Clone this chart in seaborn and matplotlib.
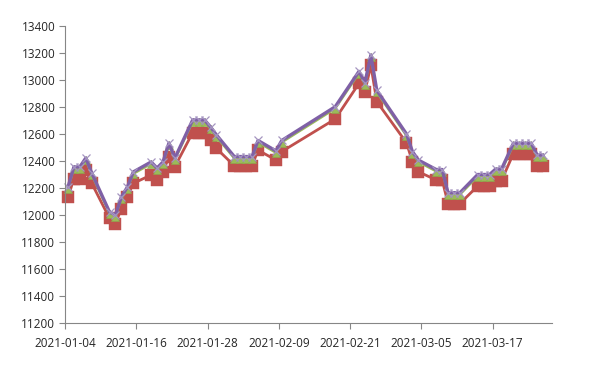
import matplotlib
matplotlib.use("Agg")
import matplotlib.pyplot as plt
import seaborn as sns
import pandas as pd

dates = [
    "2021-01-04", "2021-01-05", "2021-01-06", "2021-01-07", "2021-01-08",
    "2021-01-11", "2021-01-12", "2021-01-13", "2021-01-14", "2021-01-15",
    "2021-01-18", "2021-01-19", "2021-01-20", "2021-01-21", "2021-01-22",
    "2021-01-25", "2021-01-26", "2021-01-27", "2021-01-28", "2021-01-29",
    "2021-02-01", "2021-02-02", "2021-02-03", "2021-02-04", "2021-02-05",
    "2021-02-08", "2021-02-09",
    "2021-02-18",
    "2021-02-22", "2021-02-23", "2021-02-24", "2021-02-25",
    "2021-03-02", "2021-03-03", "2021-03-04",
    "2021-03-07", "2021-03-08",
    "2021-03-09", "2021-03-10", "2021-03-11",
    "2021-03-14", "2021-03-15", "2021-03-16",
    "2021-03-17", "2021-03-18",
    "2021-03-20", "2021-03-21", "2021-03-22", "2021-03-23",
    "2021-03-24", "2021-03-25",
]

series_red = [
    12130, 12270, 12270, 12330, 12235,
    11975, 11937, 12048, 12135, 12235,
    12296, 12259, 12320, 12430, 12358,
    12611, 12611, 12611, 12556, 12493,
    12365, 12365, 12365, 12365, 12481,
    12407, 12470,
    12711,
    12975, 12913, 13110, 12840,
    12535, 12395, 12320,
    12260, 12260,
    12085, 12085, 12085,
    12215, 12215, 12215,
    12255, 12255,
    12455, 12455, 12455, 12455,
    12360, 12360,
]

series_green = [
    12192, 12341, 12341, 12405, 12296,
    12008, 11985, 12120, 12192, 12304,
    12378, 12333, 12378, 12515, 12407,
    12688, 12688, 12688, 12637, 12578,
    12418, 12418, 12418, 12418, 12537,
    12460, 12537,
    12787,
    13048, 12965, 13168, 12908,
    12585, 12455, 12392,
    12322, 12322,
    12150, 12150, 12150,
    12285, 12285, 12285,
    12325, 12325,
    12516, 12516, 12516, 12516,
    12429, 12429,
]

series_purple = [
    12207, 12356, 12356, 12422, 12311,
    12022, 12000, 12135, 12207, 12319,
    12393, 12348, 12393, 12533, 12422,
    12704, 12704, 12704, 12652, 12593,
    12433, 12433, 12433, 12433, 12552,
    12475, 12552,
    12802,
    13064, 12980, 13185, 12923,
    12600, 12470, 12407,
    12337, 12337,
    12165, 12165, 12165,
    12300, 12300, 12300,
    12340, 12340,
    12531, 12531, 12531, 12531,
    12444, 12444,
]

tick_labels = ["2021-01-04", "2021-01-16", "2021-01-28", "2021-02-09",
               "2021-02-21", "2021-03-05", "2021-03-17"]
y_ticks = list(range(11200, 13401, 200))

sns.set_theme(style="white")
plt.rcParams['font.family'] = ['Open Sans', 'DejaVu Sans']

fig = plt.figure(figsize=(6, 3.73), dpi=100)
ax = fig.add_axes([65 / 600, 1 - 323 / 373, (552 - 65) / 600, (323 - 26) / 373])

df = pd.DataFrame({
    "date": pd.to_datetime(dates) + pd.Timedelta(hours=12),
    "red": series_red,
    "green": series_green,
    "purple": series_purple,
})

sns.lineplot(data=df, x="date", y="red", ax=ax, color="#C0504D", linewidth=2.0,
             marker="s", markersize=8, markerfacecolor="#C0504D",
             markeredgecolor="#C0504D", markeredgewidth=0.3, clip_on=False)
sns.lineplot(data=df, x="date", y="green", ax=ax, color="#9BBB59", linewidth=1.5,
             marker="^", markersize=5.5, markerfacecolor="#9BBB59",
             markeredgecolor="#8AAA4C", markeredgewidth=0.4, clip_on=False)
sns.lineplot(data=df, x="date", y="purple", ax=ax, color="#7F60A6", linewidth=2.4,
             marker="x", markersize=6, markeredgecolor="#A595C0",
             markeredgewidth=0.9, clip_on=False)

ax.set_ylim(11200, 13400)
ax.set_yticks(y_ticks)
ax.set_yticklabels([str(v) for v in y_ticks])
ax.set_xlim(pd.Timestamp("2021-01-04"), pd.Timestamp("2021-03-27"))
ax.set_xticks(pd.to_datetime(tick_labels))
ax.set_xticklabels(tick_labels)
ax.set_xlabel("")
ax.set_ylabel("")

for s in ["top", "right"]:
    ax.spines[s].set_visible(False)
for s in ["left", "bottom"]:
    ax.spines[s].set_color("#868686")
    ax.spines[s].set_linewidth(0.8)

ax.tick_params(axis="both", which="both", bottom=True, left=True, direction="out",
               length=4, width=0.8, color="#868686", labelsize=8.5,
               labelcolor="#262626")
ax.tick_params(axis="x", pad=6)
ax.tick_params(axis="y", pad=3)
ax.grid(False)

fig.savefig("out.png", dpi=100)
